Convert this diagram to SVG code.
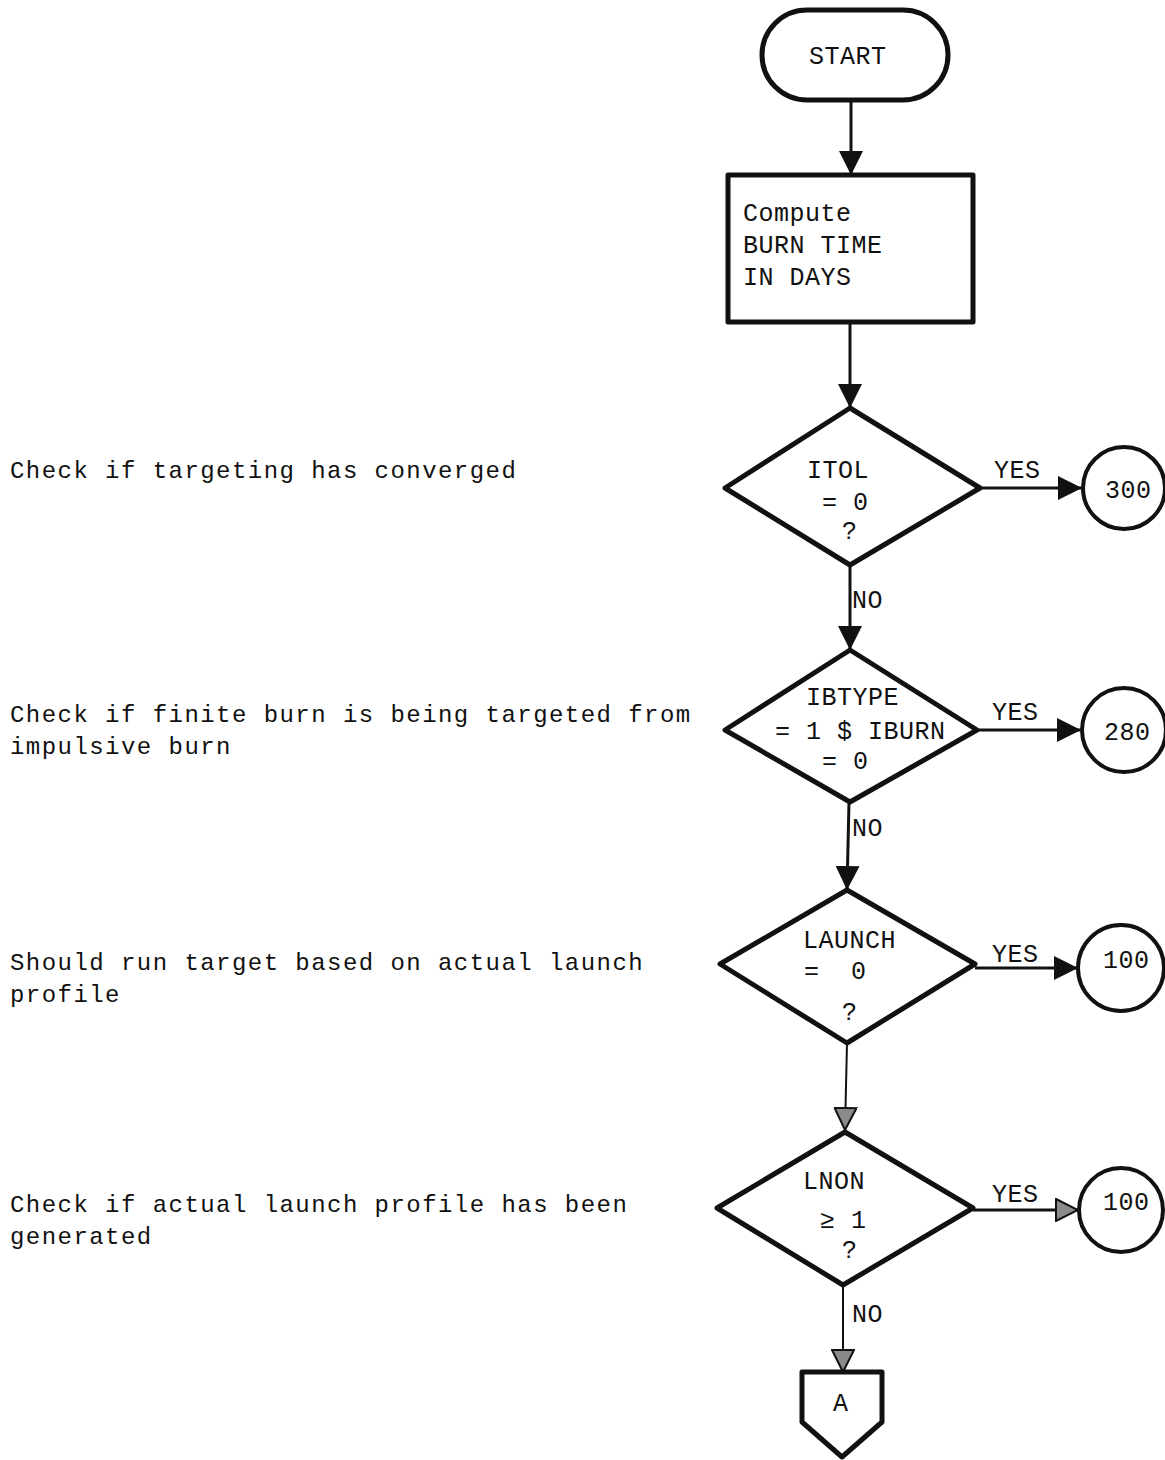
<svg xmlns="http://www.w3.org/2000/svg" width="1165" height="1460" viewBox="0 0 1165 1460">
<style>
  .bg { fill: #ffffff; }
  .shape { fill: #ffffff; stroke: #111; stroke-width: 5; stroke-linejoin: round; }
  .circ { fill: #ffffff; stroke: #111; stroke-width: 4; }
  .conn { fill: none; stroke: #111; stroke-width: 3; }
  .thin { fill: none; stroke: #111; stroke-width: 2; }
  .lbl { font-family: "Liberation Mono", "DejaVu Sans Mono", monospace; font-size: 25px; letter-spacing: 0.5px; fill: #111; }
  .note { font-family: "Liberation Mono", "DejaVu Sans Mono", monospace; font-size: 24px; letter-spacing: 1.45px; fill: #111; }
</style>
<defs>
  <marker id="arr" viewBox="0 0 24 24" refX="24" refY="12" markerWidth="24" markerHeight="24" markerUnits="userSpaceOnUse" orient="auto">
    <path d="M0,0 L24,12 L0,24 Z" fill="#111"/>
  </marker>
  <marker id="arr2" viewBox="0 0 24 24" refX="23" refY="12" markerWidth="24" markerHeight="24" markerUnits="userSpaceOnUse" orient="auto">
    <path d="M1,1 L23,12 L1,23 Z" fill="#8a8a8a" stroke="#111" stroke-width="2"/>
  </marker>
</defs>
<rect class="bg" x="0" y="0" width="1165" height="1460"/>

<g id="notes">
  <text class="note" x="10" y="478">Check if targeting has converged</text>
  <text class="note" x="10" y="722">Check if finite burn is being targeted from</text>
  <text class="note" x="10" y="754">impulsive burn</text>
  <text class="note" x="10" y="970">Should run target based on actual launch</text>
  <text class="note" x="10" y="1002">profile</text>
  <text class="note" x="10" y="1212">Check if actual launch profile has been</text>
  <text class="note" x="10" y="1244">generated</text>
</g>

<g id="connectors">
  <line class="conn" x1="851" y1="100" x2="851" y2="175" marker-end="url(#arr)"/>
  <line class="conn" x1="850" y1="322" x2="850" y2="408" marker-end="url(#arr)"/>
  <line class="conn" x1="850" y1="565" x2="850" y2="650" marker-end="url(#arr)"/>
  <line class="conn" x1="849" y1="802" x2="847" y2="890" marker-end="url(#arr)"/>
  <line class="thin" x1="847" y1="1043" x2="845" y2="1130" marker-end="url(#arr2)"/>
  <line class="thin" x1="843" y1="1285" x2="843" y2="1372" marker-end="url(#arr2)"/>
  <line class="conn" x1="980" y1="488" x2="1082" y2="488" marker-end="url(#arr)"/>
  <line class="conn" x1="977" y1="730" x2="1081" y2="730" marker-end="url(#arr)"/>
  <line class="conn" x1="975" y1="968" x2="1078" y2="968" marker-end="url(#arr)"/>
  <line class="conn" x1="973" y1="1210" x2="1078" y2="1210" marker-end="url(#arr2)"/>
  <text class="lbl" x="994" y="478">YES</text>
  <text class="lbl" x="992" y="720">YES</text>
  <text class="lbl" x="992" y="962">YES</text>
  <text class="lbl" x="992" y="1202">YES</text>
  <text class="lbl" x="852" y="608">NO</text>
  <text class="lbl" x="852" y="836">NO</text>
  <text class="lbl" x="852" y="1322">NO</text>
</g>

<g id="start">
  <rect class="shape" x="762" y="10" width="186" height="90" rx="45" ry="45" stroke-width="4"/>
  <text class="lbl" x="809" y="64">START</text>
</g>

<g id="compute">
  <rect class="shape" x="728" y="175" width="245" height="147" stroke-linejoin="miter"/>
  <text class="lbl" x="743" y="221">Compute</text>
  <text class="lbl" x="743" y="253">BURN TIME</text>
  <text class="lbl" x="743" y="285">IN DAYS</text>
</g>

<g id="itol">
  <polygon class="shape" points="850,408 980,488 850,565 725,488"/>
  <text class="lbl" x="807" y="478">ITOL</text>
  <text class="lbl" x="822" y="510">= 0</text>
  <text class="lbl" x="842" y="539">?</text>
</g>

<g id="ibtype">
  <polygon class="shape" points="850,650 977,730 850,802 725,730"/>
  <text class="lbl" x="806" y="705">IBTYPE</text>
  <text class="lbl" x="775" y="739">= 1 $ IBURN</text>
  <text class="lbl" x="822" y="769">= 0</text>
</g>

<g id="launch">
  <polygon class="shape" points="847,890 975,964 847,1043 720,964"/>
  <text class="lbl" x="803" y="948">LAUNCH</text>
  <text class="lbl" x="804" y="979">=</text>
  <text class="lbl" x="851" y="979">0</text>
  <text class="lbl" x="842" y="1020">?</text>
</g>

<g id="lnon">
  <polygon class="shape" points="845,1132 973,1208 843,1285 717,1208"/>
  <text class="lbl" x="803" y="1189">LNON</text>
  <text class="lbl" x="820" y="1228">≥ 1</text>
  <text class="lbl" x="842" y="1258">?</text>
</g>

<g id="c300">
  <circle class="circ" cx="1124" cy="488" r="41"/>
  <text class="lbl" x="1105" y="498">300</text>
</g>
<g id="c280">
  <circle class="circ" cx="1124" cy="730" r="42"/>
  <text class="lbl" x="1104" y="740">280</text>
</g>
<g id="c100a">
  <circle class="circ" cx="1121" cy="968" r="43"/>
  <text class="lbl" x="1103" y="968">100</text>
</g>
<g id="c100b">
  <circle class="circ" cx="1121" cy="1210" r="42"/>
  <text class="lbl" x="1103" y="1210">100</text>
</g>

<g id="connA">
  <polygon class="shape" points="802,1372 882,1372 882,1422 842,1457 802,1422" stroke-width="4"/>
  <text class="lbl" x="833" y="1411">A</text>
</g>
</svg>
